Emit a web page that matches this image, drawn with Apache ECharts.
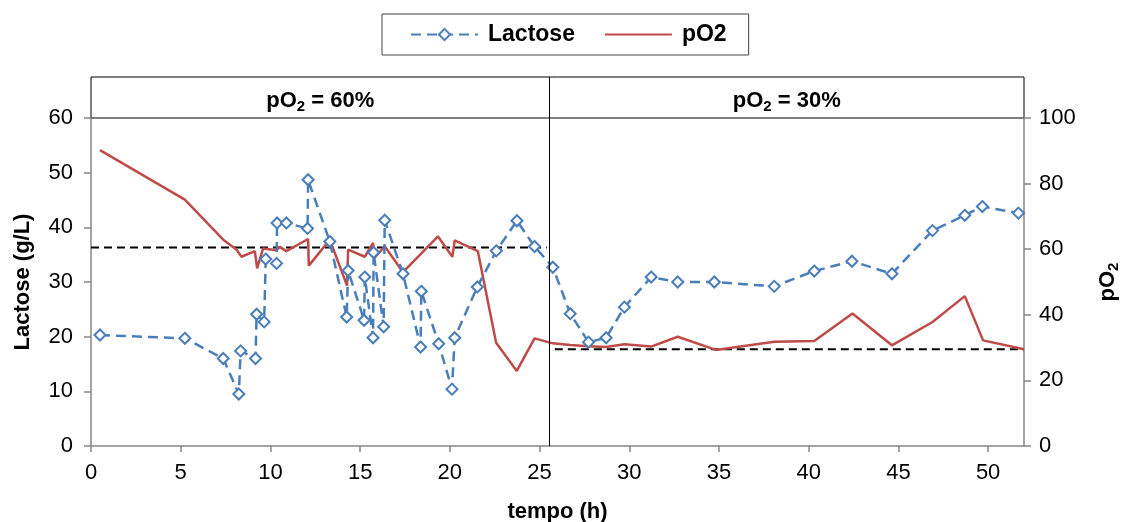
<!DOCTYPE html>
<html>
<head>
<meta charset="utf-8">
<script src="https://cdn.jsdelivr.net/npm/echarts@6/dist/echarts.min.js"></script>
<style>html,body{margin:0;padding:0;background:#fff}#c{width:1121px;height:522px}</style>
</head>
<body>
<div id="c"></div>
<script>
// ---- data ----
const lacTime = [0.5, 5.23, 7.37, 8.24, 8.34, 9.17, 9.23, 9.65, 9.74, 10.34, 10.37, 10.89, 12.07, 12.1, 13.31, 14.25, 14.33, 15.22, 15.26, 15.72, 15.75, 16.31, 16.37, 17.39, 18.37, 18.41, 19.38, 20.12, 20.27, 21.53, 22.59, 23.74, 24.72, 25.74, 26.71, 27.73, 28.71, 29.73, 31.22, 32.7, 34.74, 38.08, 40.31, 42.41, 44.64, 46.9, 48.7, 49.68, 51.69];
const lacValue = [20.3, 19.7, 16.0, 9.5, 17.4, 16.0, 24.1, 22.7, 34.2, 33.4, 40.8, 40.8, 39.8, 48.7, 37.4, 23.6, 32.1, 23.0, 30.9, 19.8, 35.4, 21.8, 41.3, 31.5, 18.1, 28.3, 18.7, 10.4, 19.8, 29.1, 35.7, 41.2, 36.5, 32.7, 24.2, 19.0, 19.8, 25.4, 30.9, 30.0, 30.0, 29.2, 32.0, 33.8, 31.5, 39.4, 42.2, 43.8, 42.6];
const po2Time = [0.5, 5.23, 7.37, 8.1, 8.39, 9.13, 9.26, 9.59, 10.34, 10.52, 10.89, 12.1, 12.14, 13.31, 14.27, 14.33, 15.26, 15.72, 15.81, 16.37, 17.39, 19.34, 20.14, 20.27, 21.56, 22.58, 23.73, 24.72, 25.74, 26.71, 27.73, 28.71, 29.73, 31.22, 32.7, 34.83, 38.08, 40.31, 42.44, 44.64, 46.9, 48.7, 49.72, 52.0];
const po2Value = [90.2, 75.1, 62.9, 59.9, 57.7, 59.4, 54.2, 60.2, 59.7, 60.7, 59.4, 63.1, 55.0, 62.9, 48.9, 59.9, 57.7, 61.9, 57.4, 60.9, 53.0, 63.9, 57.7, 62.7, 59.4, 31.5, 22.9, 32.8, 31.3, 30.8, 30.4, 30.2, 31.0, 30.3, 33.3, 29.3, 31.8, 32.0, 40.4, 30.7, 37.8, 45.7, 32.2, 29.5];
const phaseBounds = [0, 25.55, 52];
const phaseLabels = ['pO{sub|2} = 60%', 'pO{sub|2} = 30%'];
const setpointLevel = [60.5, 29.5];
const setpointRange = [[0, 25.4], [25.85, 52]];
const xTicks = [0, 5, 10, 15, 20, 25, 30, 35, 40, 45, 50];

const FONT = '"Liberation Sans", Arial, sans-serif';
const GREY = '#868686';
const BLUE = '#4A7EBB';
const RED = '#BE4B48';

const lacData = lacTime.map((t, i) => [t, lacValue[i]]);
const po2Data = po2Time.map((t, i) => [t, po2Value[i]]);
const headerData = phaseLabels.map((lab, i) => ({
  value: [(phaseBounds[i] + phaseBounds[i + 1]) / 2, 0.5],
  label: { formatter: lab }
}));

const chart = echarts.init(document.getElementById('c'), null, { renderer: 'canvas' });
const subRich = {
  sub: { fontSize: 15, fontWeight: 'bold', fontFamily: FONT, color: '#000', padding: [12, 0, 0, 0] }
};

chart.setOption({
  animation: false,
  textStyle: { fontFamily: FONT },
  legend: {
    data: [
      { name: 'Lactose' },
      { name: 'pO2', itemStyle: { opacity: 0 } }
    ],
    left: 382, top: 14,
    padding: [9, 22, 9, 28],
    itemGap: 29,
    itemWidth: 67, itemHeight: 14,
    borderColor: '#444', borderWidth: 1,
    textStyle: { fontSize: 23, fontWeight: 'bold', color: '#000', fontFamily: FONT, padding: [0, 0, 0, 5] }
  },
  grid: [
    { left: 91, right: 97, top: 118, bottom: 76, outerBoundsMode: 'none', containLabel: false },
    { left: 91, right: 97, top: 77, height: 41, show: true, borderColor: '#000', borderWidth: 1, backgroundColor: 'transparent', outerBoundsMode: 'none', containLabel: false }
  ],
  xAxis: [
    {
      type: 'value', gridIndex: 0, min: 0, max: 52,
      name: 'tempo (h)', nameLocation: 'middle', nameGap: 55,
      nameTextStyle: { fontSize: 22, fontWeight: 'bold', color: '#000', fontFamily: FONT },
      axisLine: { show: true, onZero: false, lineStyle: { color: GREY, width: 1.5 } },
      axisTick: { show: true, length: 6, lineStyle: { color: GREY, width: 1.5 }, customValues: xTicks },
      axisLabel: { fontSize: 22, color: '#000', margin: 16, customValues: xTicks },
      splitLine: { show: false }
    },
    { type: 'value', gridIndex: 1, min: 0, max: 52, show: false }
  ],
  yAxis: [
    {
      type: 'value', gridIndex: 0, min: 0, max: 60, interval: 10, position: 'left',
      name: 'Lactose (g/L)', nameLocation: 'middle', nameRotate: 90, nameGap: 57,
      nameTextStyle: { fontSize: 22, fontWeight: 'bold', color: '#000', fontFamily: FONT },
      axisLine: { show: true, lineStyle: { color: GREY, width: 1.5 } },
      axisTick: { show: true, length: 7, lineStyle: { color: GREY, width: 1.5 } },
      axisLabel: { fontSize: 22, color: '#000', margin: 18 },
      splitLine: { show: false }
    },
    {
      type: 'value', gridIndex: 0, min: 0, max: 100, interval: 20, position: 'right',
      name: 'pO{sub|2}', nameLocation: 'middle', nameRotate: 90, nameGap: 70,
      nameTextStyle: { fontSize: 22, fontWeight: 'bold', color: '#000', fontFamily: FONT, rich: subRich },
      axisLine: { show: true, lineStyle: { color: GREY, width: 1.5 } },
      axisTick: { show: true, length: 7, lineStyle: { color: GREY, width: 1.5 } },
      axisLabel: { fontSize: 22, color: '#000', margin: 15 },
      splitLine: { show: false }
    },
    { type: 'value', gridIndex: 1, min: 0, max: 1, show: false }
  ],
  series: [
    {
      name: 'setpoint60', type: 'line', xAxisIndex: 0, yAxisIndex: 1,
      data: setpointRange[0].map(t => [t, setpointLevel[0]]),
      symbol: 'none', silent: true,
      lineStyle: { color: '#000', width: 2, type: [8, 5] }, z: 2
    },
    {
      name: 'setpoint30', type: 'line', xAxisIndex: 0, yAxisIndex: 1,
      data: setpointRange[1].map(t => [t, setpointLevel[1]]),
      symbol: 'none', silent: true,
      lineStyle: { color: '#000', width: 2, type: [8, 5] }, z: 2
    },
    {
      name: 'pO2', type: 'line', xAxisIndex: 0, yAxisIndex: 1,
      data: po2Data, symbol: 'none', showSymbol: false,
      itemStyle: { color: RED },
      lineStyle: { color: RED, width: 2.5 }, z: 3
    },
    {
      name: 'Lactose', type: 'line', xAxisIndex: 0, yAxisIndex: 0,
      data: lacData, symbol: 'emptyDiamond', symbolSize: 11, showSymbol: true,
      itemStyle: { color: BLUE, borderWidth: 2 },
      lineStyle: { color: BLUE, width: 2.5, type: [10, 6] }, z: 4,
      markLine: {
        silent: true, symbol: 'none', label: { show: false },
        lineStyle: { color: '#000', width: 1, type: 'solid' },
        data: [{ xAxis: phaseBounds[1] }]
      }
    },
    {
      name: 'header', type: 'scatter', xAxisIndex: 1, yAxisIndex: 2,
      data: headerData, symbolSize: 0, silent: true,
      itemStyle: { opacity: 1 },
      label: {
        show: true, position: 'inside', offset: [0, 3], opacity: 1,
        fontSize: 22, fontWeight: 'bold', color: '#000', fontFamily: FONT, rich: subRich
      },
      markLine: {
        silent: true, symbol: 'none', label: { show: false },
        lineStyle: { color: '#000', width: 1, type: 'solid' },
        data: [{ xAxis: phaseBounds[1] }]
      }
    }
  ]
});
</script>
</body>
</html>
